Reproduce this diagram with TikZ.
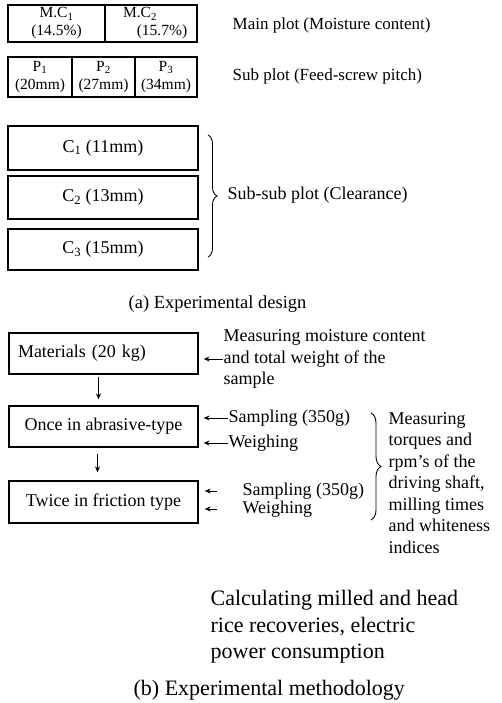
\documentclass[tikz,border=0pt]{standalone}
\usepackage{fontspec}
\setmainfont{Liberation Serif}
\usetikzlibrary{arrows.meta, decorations.pathreplacing}
\newcommand\figfont{\fontsize{18}{21.5}\selectfont}
\newcommand\plotfnt{\fontsize{17}{20}\selectfont}
\newcommand\cellfnt{\fontsize{15.5}{18}\selectfont}
\newcommand\bigfnt{\fontsize{22}{26.5}\selectfont}

\begin{document}
\begin{tikzpicture}[x=1pt, y=-1pt, line width=1.3pt,
  cell/.style={draw, inner sep=0pt, align=center, font=\cellfnt},
  flowbox/.style={draw, minimum width=189pt, inner sep=0pt, align=center, font=\figfont},
  lbl/.style={anchor=west, inner sep=0pt, align=left, font=\figfont},
  arr/.style={line width=0.9pt, -{Stealth[length=6pt,width=5pt]}},
  bracedeco/.style={line width=0.9pt, decorate, decoration={brace, amplitude=#1}},
]
  \useasboundingbox (0,0) rectangle (501,703);
  % (a) main plot: moisture content
  \node[cell, minimum width=97pt, minimum height=37pt] (mc1) at (56.5,23.5) {M.C\textsubscript{1}\\(14.5\%)};
  \node[cell, minimum width=92pt, minimum height=37pt] (mc2) at (151,23.5) {\hspace*{-22pt}M.C\textsubscript{2}\\\hspace*{22pt}(15.7\%)};
  \node[lbl, font=\plotfnt] (mainlbl) at (232,25) {Main plot (Moisture content)};
  % sub plot: feed-screw pitch
  \foreach \i/\xc/\w/\mm in {1/40/64/20, 2/103.5/63/27, 3/166/62/34}
    \node[cell, minimum width=\w pt, minimum height=40pt] (p\i) at (\xc,77) {P\textsubscript{\i}\\(\mm mm)};
  \node[lbl, font=\plotfnt] (sublbl) at (232,76) {Sub plot (Feed-screw pitch)};
  % sub-sub plot: clearance
  \foreach \i/\yc/\h/\mm in {1/148/44/11, 2/197.5/43/13, 3/249.5/41/15}
    \node[cell, font=\figfont, minimum width=190pt, minimum height=\h pt] (c\i) at (103,\yc) {C\textsubscript{\i}\ (\mm mm)};
  \coordinate (bta) at (208,135);
  \coordinate (btb) at (208,257);
  \draw[bracedeco=9pt] (bta) -- (btb);
  \node[lbl] (ssublbl) at (227,195) {Sub-sub plot (Clearance)};
  \node[font=\fontsize{18.5}{22}\selectfont] (capa) at (217.5,304) {(a) Experimental design};

  % (b) flow of the milling runs
  \node[flowbox, minimum height=41pt, text width=171pt, align=left] (mat) at (103.5,353.5) {Materials (20 kg)};
  \node[flowbox, minimum height=41pt] (once) at (103.5,426.5) {Once in abrasive-type};
  \node[flowbox, minimum height=42pt] (twice) at (103.5,502) {Twice in friction type};
  \draw[arr, shorten <=2pt, shorten >=6pt] ([xshift=-5pt]mat.south) -- ([xshift=-5pt]once.north);
  \draw[arr, shorten <=6pt, shorten >=8pt] ([xshift=-6pt]once.south) -- ([xshift=-6pt]twice.north);
  % measurements
  \node[lbl] (meas) at (223,359) {Measuring moisture content\\and total weight of the\\sample};
  \node[lbl] (samp1) at (228,418) {Sampling (350g)};
  \node[lbl] (weigh1) at (228,443) {Weighing};
  \node[lbl] (samp2) at (242,491) {Sampling (350g)};
  \node[lbl] (weigh2) at (242,509) {Weighing};
  \draw[arr, shorten >=5pt] (meas.west) -- (meas.west -| mat.east);
  \draw[arr, shorten >=5pt] (samp1.west) -- (samp1.west -| once.east);
  \draw[arr, shorten >=5pt] (weigh1.west) -- (weigh1.west -| once.east);
  \draw[arr, shorten <=25pt, shorten >=6pt] (samp2.west) -- (samp2.west -| twice.east);
  \draw[arr, shorten <=25pt, shorten >=6pt] (weigh2.west) -- (weigh2.west -| twice.east);
  \coordinate (bra) at (371,413);
  \coordinate (brb) at (371,520);
  \draw[bracedeco=10pt] (bra) -- (brb);
  \node[lbl] (torq) at (388,483) {Measuring\\torques and\\rpm's of the\\driving shaft,\\milling times\\and whiteness\\indices};
  \node[lbl, font=\bigfnt] (calc) at (210,627) {Calculating milled and head\\rice recoveries, electric\\power consumption};
  \node[lbl, font=\bigfnt] (capb) at (133,690) {(b) Experimental methodology};
\end{tikzpicture}
\end{document}
